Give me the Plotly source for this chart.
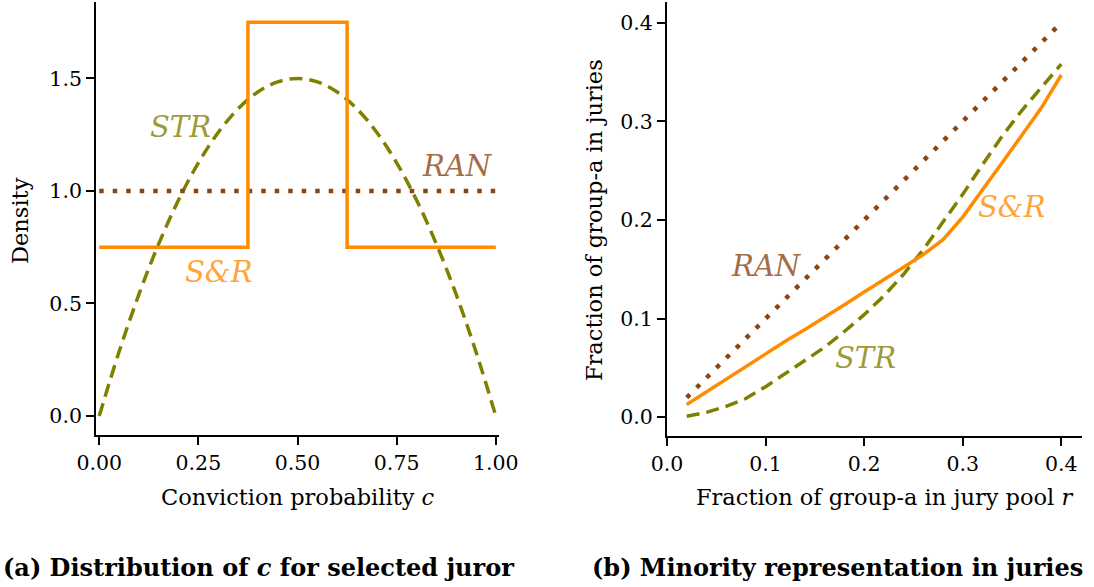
import plotly.graph_objects as go
from plotly.subplots import make_subplots

# ---- Panel (a): density of c ----
c_grid = [0.0, 0.05, 0.10, 0.15, 0.20, 0.25, 0.30, 0.35, 0.40, 0.45, 0.50,
          0.55, 0.60, 0.65, 0.70, 0.75, 0.80, 0.85, 0.90, 0.95, 1.0]
str_density = [0.0, 0.285, 0.54, 0.765, 0.96, 1.125, 1.26, 1.365, 1.44, 1.485, 1.5,
               1.485, 1.44, 1.365, 1.26, 1.125, 0.96, 0.765, 0.54, 0.285, 0.0]
ran_c = [0.0, 1.0]
ran_density = [1.0, 1.0]
sr_c = [0.0, 0.375, 0.375, 0.625, 0.625, 1.0]
sr_density = [0.75, 0.75, 1.75, 1.75, 0.75, 0.75]

# ---- Panel (b): minority representation ----
r_pool = [0.02, 0.04, 0.06, 0.08, 0.10, 0.12, 0.14, 0.16, 0.18, 0.20,
          0.22, 0.24, 0.26, 0.28, 0.30, 0.32, 0.34, 0.36, 0.38, 0.40]
ran_frac = [0.02, 0.04, 0.06, 0.08, 0.10, 0.12, 0.14, 0.16, 0.18, 0.20,
            0.22, 0.24, 0.26, 0.28, 0.30, 0.32, 0.34, 0.36, 0.38, 0.40]
sr_frac = [0.013, 0.026, 0.039, 0.052, 0.065, 0.077, 0.089, 0.101, 0.114, 0.127,
           0.139, 0.152, 0.165, 0.180, 0.203, 0.230, 0.258, 0.286, 0.314, 0.347]
str_frac = [0.001, 0.005, 0.011, 0.019, 0.031, 0.044, 0.057, 0.071, 0.087, 0.104,
            0.123, 0.145, 0.170, 0.198, 0.226, 0.256, 0.285, 0.311, 0.335, 0.358]

x_ticks_a = [0.0, 0.25, 0.5, 0.75, 1.0]
y_ticks_a = [0.0, 0.5, 1.0, 1.5]
ticks_b = [0.0, 0.1, 0.2, 0.3, 0.4]

ORANGE = "#ff8c00"
OLIVE = "#808000"
BROWN = "#8b4513"
FONT = "DejaVu Serif"

fig = make_subplots(rows=1, cols=2)

fig.add_trace(go.Scatter(x=c_grid, y=str_density, mode="lines", line_shape="spline",
                         line=dict(color=OLIVE, width=3.5, dash="13px,7px")), row=1, col=1)
fig.add_trace(go.Scatter(x=ran_c, y=ran_density, mode="lines",
                         line=dict(color=BROWN, width=4.5, dash="4.5px,9px")), row=1, col=1)
fig.add_trace(go.Scatter(x=sr_c, y=sr_density, mode="lines",
                         line=dict(color=ORANGE, width=3.5)), row=1, col=1)

fig.add_trace(go.Scatter(x=r_pool, y=ran_frac, mode="lines",
                         line=dict(color=BROWN, width=4.5, dash="4.5px,9.5px")), row=1, col=2)
fig.add_trace(go.Scatter(x=r_pool, y=str_frac, mode="lines",
                         line=dict(color=OLIVE, width=3.5, dash="13px,7px")), row=1, col=2)
fig.add_trace(go.Scatter(x=r_pool, y=sr_frac, mode="lines",
                         line=dict(color=ORANGE, width=3.5)), row=1, col=2)

axis_common = dict(showline=True, linecolor="black", linewidth=2, ticks="outside",
                   ticklen=8, tickwidth=1.5, tickcolor="black", showgrid=False,
                   zeroline=False, automargin=False,
                   tickfont=dict(family=FONT, size=20.5, color="black"))

fig.update_xaxes(axis_common, row=1, col=1, range=[-0.008, 1.008], tickvals=x_ticks_a,
                 tickformat=".2f", domain=[0.0878, 0.4561])
fig.update_yaxes(axis_common, row=1, col=1, range=[-0.0845, 1.84], tickvals=y_ticks_a,
                 tickformat=".1f", domain=[0.259, 0.9966])
fig.update_xaxes(axis_common, row=1, col=2, range=[0.0, 0.421], tickvals=ticks_b,
                 tickformat=".1f", domain=[0.6097, 0.989])
fig.update_yaxes(axis_common, row=1, col=2, range=[-0.019, 0.421], tickvals=ticks_b,
                 tickformat=".1f", domain=[0.2572, 0.9966])

label_font = dict(family=FONT, size=29)
title_font = dict(family=FONT, size=22.5, color="black")
caption_font = dict(family=FONT, size=24, color="black")
annotations = [
    dict(x=0.204, y=1.285, xref="x", yref="y", text="<i>STR</i>",
         font=dict(label_font, color="rgba(128,128,0,0.8)")),
    dict(x=0.904, y=1.11, xref="x", yref="y", text="<i>RAN</i>",
         font=dict(label_font, color="rgba(139,69,19,0.8)")),
    dict(x=0.302, y=0.64, xref="x", yref="y", text="<i>S&amp;R</i>",
         font=dict(label_font, color="rgba(255,140,0,0.8)")),
    dict(x=0.1014, y=0.153, xref="x2", yref="y2", text="<i>RAN</i>",
         font=dict(label_font, color="rgba(139,69,19,0.8)")),
    dict(x=0.350, y=0.213, xref="x2", yref="y2", text="<i>S&amp;R</i>",
         font=dict(label_font, color="rgba(255,140,0,0.8)")),
    dict(x=0.201, y=0.0598, xref="x2", yref="y2", text="<i>STR</i>",
         font=dict(label_font, color="rgba(128,128,0,0.8)")),
    # axis titles
    dict(x=298 / 1094, y=(587 - 497) / 587, xref="paper", yref="paper",
         text="Conviction probability <i>c</i>", font=title_font),
    dict(x=20 / 1094, y=(587 - 221) / 587, xref="paper", yref="paper", textangle=-90,
         text="Density", font=title_font),
    dict(x=884 / 1094, y=(587 - 497) / 587, xref="paper", yref="paper",
         text="Fraction of group-a in jury pool <i>r</i>", font=title_font),
    dict(x=594 / 1094, y=(587 - 220) / 587, xref="paper", yref="paper", textangle=-90,
         text="Fraction of group-a in juries", font=title_font),
    # captions
    dict(x=258 / 1094, y=(587 - 567) / 587, xref="paper", yref="paper",
         text="<b>(a) Distribution of <i>c</i> for selected juror</b>", font=caption_font),
    dict(x=837 / 1094, y=(587 - 567) / 587, xref="paper", yref="paper",
         text="<b>(b) Minority representation in juries</b>", font=caption_font),
]
for a in annotations:
    a.setdefault("showarrow", False)
    a.setdefault("xanchor", "center")
    a.setdefault("yanchor", "middle")
fig.update_layout(annotations=annotations)

fig.update_layout(width=1094, height=587, margin=dict(l=0, r=0, t=0, b=0, autoexpand=False),
                  plot_bgcolor="white", paper_bgcolor="white", showlegend=False,
                  font=dict(family=FONT))

fig.write_html("out.html", config={"displayModeBar": False},
               post_script="document.body.style.margin='0';document.body.style.overflow='hidden';")
